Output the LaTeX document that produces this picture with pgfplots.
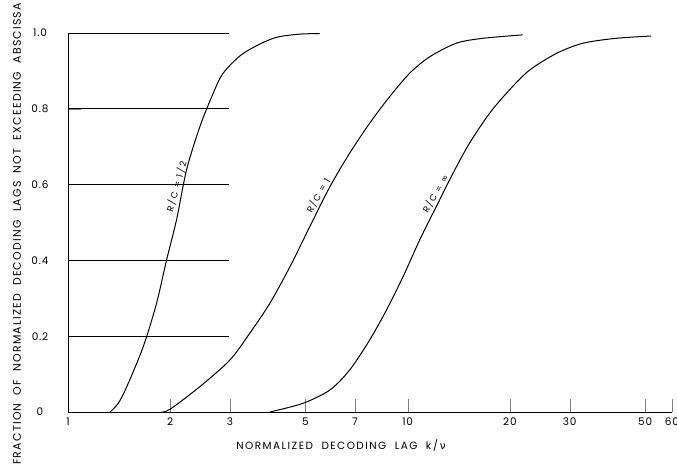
\documentclass[border=0pt]{standalone}
\usepackage{fontspec}
\setmainfont{Poppins}
\newfontfamily\lsfont{Poppins}[LetterSpace=14]
\newfontfamily\ylfont{Poppins}[LetterSpace=11]
\newfontfamily\tkfont{Poppins}[LetterSpace=8]
\newfontfamily\cvfont{Poppins}[LetterSpace=22]
\newfontfamily\djfont{DejaVu Sans}
\usepackage{pgfplots}
\pgfplotsset{compat=1.18}
\begin{document}
\begin{tikzpicture}
\begin{axis}[
  name=ax,
  scale only axis,
  width=604bp, height=379bp,
  xmode=log,
  xmin=1, xmax=60, ymin=0, ymax=1,
  axis lines*=left,
  axis line style={line width=0.8bp},
  xtick={1,2,3,5,7,10,20,30,50,60},
  xticklabels={1,2,3,5,7,10,20,30,50,60},
  ytick={0,0.2,0.4,0.6,0.8,1.0},
  yticklabels={0,0.2,0.4,0.6,0.8,1.0},
  xtick align=inside,
  ytick align=inside,
  major tick length=13.5bp,
  /pgf/number format/assume math mode=true,
  ticklabel style={font=\fontsize{10.5}{12}\tkfont},
  yticklabel style={anchor=center, xshift=-28bp},
  xticklabel style={yshift=-2bp},
  xlabel={NORMALIZED\ \ DECODING\ \ LAG\ \ k\,/\,{\djfont ν}},
  xlabel style={font=\fontsize{10.5}{12}\lsfont, at={(axis description cs:0.452,-0.089)}, anchor=center},
  ylabel={FRACTION\ \ OF\ \ NORMALIZED\ \ DECODING\ \ LAGS\ \ NOT\ \ EXCEEDING\ \ ABSCISSA},
  ylabel style={font=\fontsize{11}{12}\ylfont, at={(axis description cs:-0.0844,0.47)}, anchor=center, rotate=0},
  clip=false,
]
\addplot[black, line width=1bp, smooth, tension=0.5] coordinates {
(1.33,0) (1.406,0.023) (1.49,0.067) (1.665,0.172) (1.823,0.287) (1.951,0.401) (2.087,0.507) (2.234,0.639) (2.445,0.753) (2.676,0.841) (2.863,0.894) (3.28,0.946) (4.02,0.986) (4.81,0.997) (5.51,0.998)
};
\addplot[black, line width=1bp, smooth, tension=0.5] coordinates {
(1.877,0) (1.995,0.007) (2.445,0.067) (2.996,0.137) (3.43,0.208) (3.93,0.287) (4.50,0.383) (5.15,0.489) (5.90,0.594) (6.75,0.683) (7.73,0.762) (8.85,0.832) (10.14,0.894) (11.6,0.937) (13.9,0.973) (16.66,0.986) (21.8,0.995)
};
\addplot[black, line width=1bp, smooth, tension=0.5] coordinates {
(3.93,0) (4.92,0.023) (5.90,0.058) (6.75,0.111) (7.73,0.190) (8.66,0.269) (9.69,0.357) (10.85,0.454) (12.14,0.542) (13.6,0.630) (15.2,0.709) (17.42,0.788) (19.95,0.850) (22.85,0.902) (27.4,0.946) (32.8,0.973) (41.1,0.986) (52.1,0.992)
};
\pgfplotsinvokeforeach{0.2,0.4,0.6,0.8,1.0}{
  \draw[black, line width=0.6bp] (axis cs:1,#1) -- ++(13.5bp,0);
}
\node[font=\fontsize{9}{10}\cvfont, rotate=74, anchor=south, inner sep=1.5bp] at (axis cs:2.18,0.59) {R\,/\,C = 1/2};
\node[font=\fontsize{9}{10}\cvfont, rotate=60, anchor=south, inner sep=1.5bp] at (axis cs:5.67,0.562) {R\,/\,C = 1};
\node[font=\fontsize{9}{10}\cvfont, rotate=60, anchor=south, inner sep=1.5bp] at (axis cs:12.55,0.567) {R\,/\,C = {\djfont ∞}};
\end{axis}
\pgfresetboundingbox
\path[use as bounding box] ([xshift=-68bp,yshift=-59bp]ax.south west) rectangle ([xshift=5bp,yshift=33bp]ax.north east);
\end{tikzpicture}
\end{document}
